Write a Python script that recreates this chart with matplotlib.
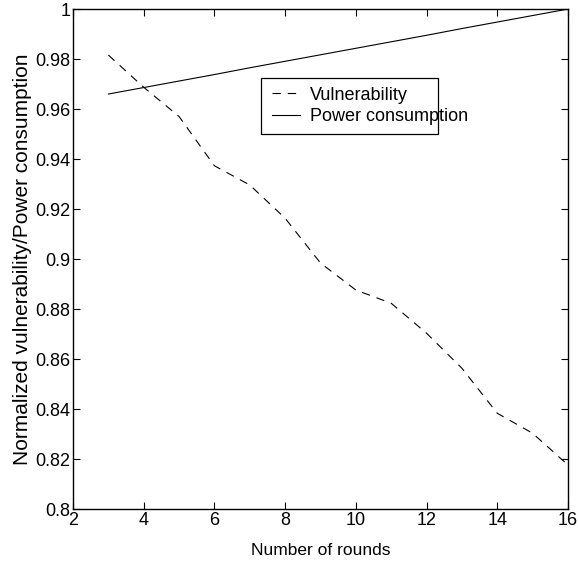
import matplotlib
matplotlib.use("Agg")
import matplotlib.pyplot as plt
from matplotlib.patches import Rectangle

plt.rcParams['font.family'] = ['Liberation Sans', 'DejaVu Sans']
plt.rcParams['lines.scale_dashes'] = False

rounds = [3, 4, 5, 6, 7, 8, 9, 10, 11, 12, 13, 14, 15, 16]
vulnerability = [0.9816, 0.9687, 0.957, 0.9373, 0.9296, 0.9163, 0.8984, 0.8876,
                 0.8823, 0.8703, 0.8563, 0.8383, 0.8303, 0.8176]
power = [0.966, 0.9686, 0.9712, 0.9738, 0.9765, 0.9791, 0.9817, 0.9843,
         0.9869, 0.9895, 0.9922, 0.9948, 0.9974, 1.0]

fig = plt.figure(figsize=(5.78, 5.65), dpi=100)
ax = fig.add_axes([0.1263, 0.0991, 0.8564, 0.8849])
ax.plot(rounds, vulnerability, color='black', linewidth=0.8, dashes=(6, 5), label='Vulnerability')
ax.plot(rounds, power, color='black', linewidth=0.8, label='Power consumption')

ax.set_xlim(2, 16)
ax.set_ylim(0.8, 1.0)
ax.set_xticks([2, 4, 6, 8, 10, 12, 14, 16])
ax.set_yticks([0.8, 0.82, 0.84, 0.86, 0.88, 0.9, 0.92, 0.94, 0.96, 0.98, 1.0])
ax.set_yticklabels(['0.8', '0.82', '0.84', '0.86', '0.88', '0.9', '0.92', '0.94', '0.96', '0.98', '1'])
ax.tick_params(direction='in', top=True, right=True, length=5, width=0.8, labelsize=13, pad=2)
for s in ax.spines.values():
    s.set_linewidth(1.0)
ax.set_xlabel('Number of rounds', fontsize=12.5, labelpad=10)
ax.set_ylabel('Normalized vulnerability/Power consumption', fontsize=15, labelpad=2)

# legend box (MATLAB-style)
ax.add_patch(Rectangle((0.380, 0.750), 0.357, 0.112, transform=ax.transAxes,
                       facecolor='white', edgecolor='black', linewidth=0.9, zorder=3))
leg = ax.legend(loc='upper left', bbox_to_anchor=(0.402, 0.845), fontsize=13,
                frameon=False, borderpad=0, handlelength=1.55, handletextpad=0.55,
                labelspacing=0.27, borderaxespad=0)
leg.set_zorder(4)
for h in leg.get_lines():
    h.set_linewidth(0.8)

fig.savefig('out.png', dpi=100)
